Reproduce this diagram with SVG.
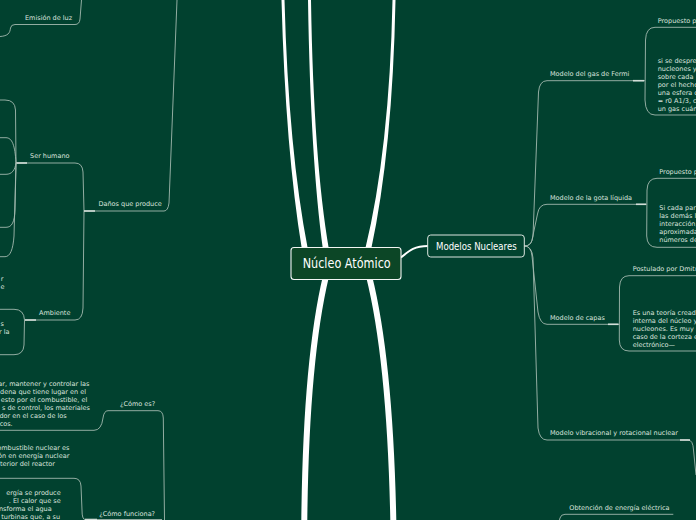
<svg xmlns="http://www.w3.org/2000/svg" width="696" height="520" viewBox="0 0 696 520">
<style>
.t{font-family:"DejaVu Sans",sans-serif;font-size:6.5px;fill:#dbe4df}
.e{text-anchor:end}
.c{fill:none;stroke:#a3b9af;stroke-width:0.9}
.b{fill:none;stroke:#d3ded8;stroke-width:1.6}
.w{fill:#ffffff}
.h{font-family:"DejaVu Sans",sans-serif;fill:#ffffff}
</style>
<rect width="696" height="520" fill="#01412f"/>
<g id="connectors">
  <!-- thick main branches -->
  <path class="w" d="M281.5,0 Q285.5,150 302,250 L308,250 Q288.5,150 284.5,0 Z"/>
  <path class="w" d="M308,0 Q310.5,160 323,250 L329,250 Q313.5,160 311,0 Z"/>
  <path class="w" d="M392.5,0 Q389.5,150 365,250 L371,250 Q392.5,150 395.5,0 Z"/>
  <path d="M326,276 Q306,360 304.3,520" fill="none" stroke="#fff" stroke-width="6"/>
  <path d="M369,276 Q390,360 393.3,520" fill="none" stroke="#fff" stroke-width="6"/>
  <path d="M401,257.5 C410,250 415,246 428,246" fill="none" stroke="#fff" stroke-width="2"/>
  <!-- left side -->
  <path class="c" d="M0,36.5 C8,36 10,33 10.5,28 Q11,24.5 15,24.5 L75,24.5 Q79.5,24.5 80,19 L81.5,0"/>
  <path class="c" d="M84,211 L164,211 Q168,211 169,203 L177,0"/>
  <path class="c" d="M84,211 L83,172 Q82.5,163 75,163 L16,163"/>
  <path class="c" d="M84,211 L83,308 Q82.5,320 75,320 L25,320"/>
  <path class="b" d="M84,211 L95,211"/>
  <path class="b" d="M16,163 L27,163"/>
  <path class="b" d="M25,320 L36,320"/>
  <path class="c" d="M16,163 L15.5,110 Q15,100 5,100 L0,100"/>
  <path class="c" d="M16,163 C15,145 12,137.7 6,137.7 L0,137.7"/>
  <path class="c" d="M16,163 C15,170 12,174.3 6,174.3 L0,174.3"/>
  <path class="c" d="M16,163 L15,210 C14.5,222 12,227.3 6,227.3 L0,227.3"/>
  <path class="c" d="M16,163 L14,236 C13,250 10,256.7 5,256.7 L0,256.7"/>
  <path class="c" d="M0,309.3 L14,309.3 Q24,309.3 24.5,320 L24,345 Q23.5,354.7 14,354.7 L0,354.7"/>
  <!-- bottom left -->
  <path class="c" d="M108,410.7 Q104,410.7 103,418 Q101.5,430.3 94,430.3 L0,430.3"/>
  <path class="c" d="M108,410.7 L158,410.7 Q163,410.7 163.3,418 L164.5,520"/>
  <path class="c" d="M85,519.5 L162,519.5"/>
  <path class="b" d="M85,519.5 L97,519.5"/>
  <path class="c" d="M85,519.5 Q82,519.5 82,510 L81,486 Q80.5,478.3 74,478.3 L0,478.3"/>
  <!-- right side -->
  <path class="c" d="M524.3,246 Q532,246 533,236 L538.5,92 Q539.5,80.7 547,80.7 L645,80.7"/>
  <path class="c" d="M524.3,246 Q531,246 532,240 L537.5,214 Q539,204.3 547,204.3 L646.7,204.3"/>
  <path class="c" d="M524.3,246 Q531,246 532,256 L538,312 Q540,324.3 547,324.3 L619.3,324.3"/>
  <path class="c" d="M524.3,246 Q532,246 533,258 L538,428 Q539.5,440 547,440 L688,440 Q693,440 693.5,450 L696,475"/>
  <path class="b" d="M633,80.7 L644,80.7"/>
  <path class="b" d="M636,204.3 L646,204.3"/>
  <path class="b" d="M608,324.3 L618.5,324.3"/>
  <path class="b" d="M680,440 L690,440"/>
  <path class="c" d="M673.3,514.3 L565,514.3 Q561,514.3 560,518 L559.5,520"/>
  <path class="c" d="M696,27.3 L655,27.3 Q646,27.3 645.5,40 L645,100 Q645.5,115 655,115 L696,115"/>
  <path class="c" d="M696,178.3 L657,178.3 Q647.5,178.3 647,190 L646.7,236 Q647,247.3 657,247.3 L696,247.3"/>
  <path class="c" d="M696,275.7 L629,275.7 Q620,275.7 619.5,287 L619.3,340 Q619.5,351 629,351 L696,351"/>
</g>
<g id="nucleo-atomico">
  <rect x="291" y="247.5" width="110" height="32" rx="3" fill="#0c4626" stroke="#f2f5f3" stroke-width="1.1"/>
  <text class="h" x="302.7" y="267.5" font-size="13.5" textLength="88" lengthAdjust="spacingAndGlyphs">Núcleo Atómico</text>
</g>
<g id="modelos-nucleares">
  <rect x="427.7" y="235" width="96.6" height="22" rx="3" fill="#02432f" stroke="#dbe5df" stroke-width="1"/>
  <text class="h" x="436" y="249.5" font-size="10" textLength="80.7" lengthAdjust="spacingAndGlyphs">Modelos Nucleares</text>
</g>
<g id="emision-de-luz"><text class="t" x="25" y="19.5">Emisión de luz</text></g>
<g id="danos"><text class="t" x="98.5" y="206">Daños que produce</text></g>
<g id="ser-humano"><text class="t" x="30" y="158">Ser humano</text></g>
<g id="ambiente"><text class="t" x="39" y="315">Ambiente</text></g>
<g id="clip-texts-left">
  <text class="t e" x="3.5" y="281">r</text>
  <text class="t e" x="4.5" y="288.5">e</text>
  <text class="t e" x="4" y="326">s</text>
  <text class="t e" x="9.5" y="334">r la</text>
</g>
<g id="como-es-desc">
  <text class="t e" x="89.3" y="386.3">ar, mantener y controlar las</text>
  <text class="t e" x="86" y="394.3">dena que tiene lugar en el</text>
  <text class="t e" x="87.3" y="402.3">esto por el combustible, el</text>
  <text class="t e" x="90" y="410">s de control, los materiales</text>
  <text class="t e" x="66.7" y="418">dor en el caso de los</text>
  <text class="t e" x="12.7" y="426.3">cos.</text>
</g>
<g id="como-es"><text class="t" x="120" y="406">¿Cómo es?</text></g>
<g id="combustible-desc">
  <text class="t e" x="69.3" y="450">ombustible nuclear es</text>
  <text class="t e" x="69.3" y="458">ón en energía nuclear</text>
  <text class="t e" x="55" y="466">terior del reactor</text>
</g>
<g id="como-funciona-desc">
  <text class="t e" x="60.7" y="495">ergía se produce</text>
  <text class="t e" x="60.7" y="503">. El calor que se</text>
  <text class="t e" x="51.7" y="511">nsforma el agua</text>
  <text class="t e" x="60" y="519">turbinas que, a su</text>
</g>
<g id="como-funciona"><text class="t" x="99.3" y="515.6">¿Cómo funciona?</text></g>
<g id="gas-fermi"><text class="t" x="550" y="75.5">Modelo del gas de Fermi</text></g>
<g id="fermi-propuesto"><text class="t" x="657.7" y="23">Propuesto p</text></g>
<g id="fermi-desc">
  <text class="t" x="657.7" y="63.3">si se despre</text>
  <text class="t" x="657.7" y="71.3">nucleones y</text>
  <text class="t" x="657.7" y="79">sobre cada</text>
  <text class="t" x="657.7" y="87">por el hecho</text>
  <text class="t" x="657.7" y="95">una esfera d</text>
  <text class="t" x="657.7" y="102.6">= r0 A1/3, c</text>
  <text class="t" x="657.7" y="110.6">un gas cuán</text>
</g>
<g id="gota-liquida"><text class="t" x="550" y="199.5">Modelo de la gota líquida</text></g>
<g id="gota-propuesto"><text class="t" x="659.3" y="174">Propuesto p</text></g>
<g id="gota-desc">
  <text class="t" x="659.3" y="209.6">Si cada par</text>
  <text class="t" x="659.3" y="217.6">las demás l</text>
  <text class="t" x="659.3" y="225.6">interacción,</text>
  <text class="t" x="659.3" y="233.6">aproximada</text>
  <text class="t" x="659.3" y="241.6">números de</text>
</g>
<g id="capas"><text class="t" x="550" y="319.5">Modelo de capas</text></g>
<g id="capas-postulado"><text class="t" x="632.7" y="271.3">Postulado por Dmitr</text></g>
<g id="capas-desc">
  <text class="t" x="632.7" y="314.6">Es una teoría cread</text>
  <text class="t" x="632.7" y="322.6">interna del núcleo y</text>
  <text class="t" x="632.7" y="330.6">nucleones. Es muy</text>
  <text class="t" x="632.7" y="338.6">caso de la corteza e</text>
  <text class="t" x="632.7" y="346.6">electrónico—</text>
</g>
<g id="vibracional"><text class="t" x="550" y="435">Modelo vibracional y rotacional nuclear</text></g>
<g id="obtencion"><text class="t" x="569.3" y="509.6">Obtención de energía eléctrica</text></g>
</svg>
